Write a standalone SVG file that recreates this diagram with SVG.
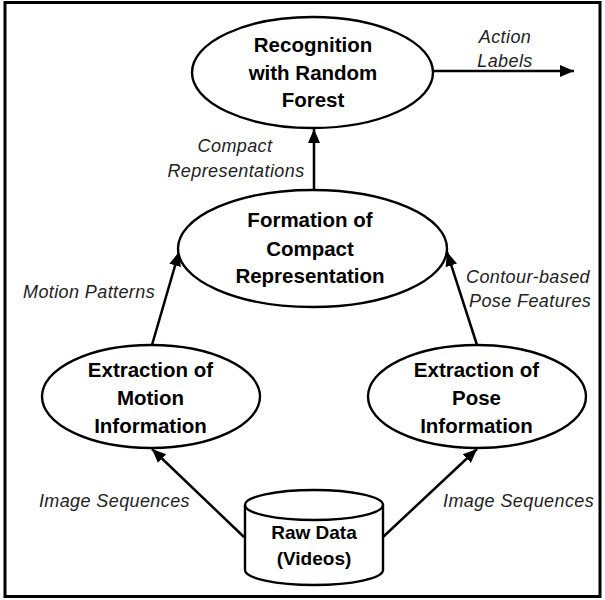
<svg xmlns="http://www.w3.org/2000/svg" width="605" height="600" viewBox="0 0 605 600">
<style>
.n{fill:#fff;stroke:#000;stroke-width:2.4}
.t{font-family:"Liberation Sans",Arial,sans-serif;font-weight:bold;font-size:20.5px;fill:#000;text-anchor:middle}
.l{font-family:"Liberation Sans",Arial,sans-serif;font-style:italic;font-size:18px;letter-spacing:0.4px;fill:#222}
.c{stroke:#000;stroke-width:2.5;fill:none;marker-end:url(#ah)}
</style>
<defs>
<marker id="ah" markerUnits="userSpaceOnUse" markerWidth="16" markerHeight="16" viewBox="0 0 16 16" refX="14" refY="8" orient="auto">
<path d="M0,2 L14,8 L0,14 Z" fill="#000"/>
</marker>
</defs>
<rect x="5" y="2.5" width="595" height="594" fill="#fff" stroke="#000" stroke-width="3"/>
<g id="connectors">
<line class="c" x1="433" y1="71" x2="574" y2="71"/>
<line class="c" x1="314" y1="190" x2="314" y2="129"/>
<line class="c" x1="152" y1="345" x2="179" y2="252"/>
<line class="c" x1="477" y1="345" x2="447" y2="252"/>
<line class="c" x1="244" y1="537" x2="152" y2="449"/>
<line class="c" x1="383" y1="537" x2="477" y2="449"/>
</g>
<g id="labels">
<text class="l" x="505" y="43" text-anchor="middle">Action</text>
<text class="l" x="505" y="67" text-anchor="middle">Labels</text>
<text class="l" x="235" y="152" text-anchor="middle">Compact</text>
<text class="l" x="236" y="177" text-anchor="middle">Representations</text>
<text class="l" x="23" y="298">Motion Patterns</text>
<text class="l" x="466" y="283">Contour-based</text>
<text class="l" x="469" y="307">Pose Features</text>
<text class="l" x="190" y="507" text-anchor="end">Image Sequences</text>
<text class="l" x="443" y="507">Image Sequences</text>
</g>
<g id="recognition">
<ellipse class="n" cx="312.5" cy="72.5" rx="120.5" ry="55.5"/>
<text class="t" x="313" y="52">Recognition</text>
<text class="t" x="313" y="80">with Random</text>
<text class="t" x="313" y="107">Forest</text>
</g>
<g id="formation">
<ellipse class="n" cx="312.5" cy="248.5" rx="134.5" ry="58.5"/>
<text class="t" x="310" y="227">Formation of</text>
<text class="t" x="310" y="256">Compact</text>
<text class="t" x="310" y="283">Representation</text>
</g>
<g id="motion">
<ellipse class="n" cx="151" cy="396.5" rx="109" ry="51.5"/>
<text class="t" x="150.5" y="377">Extraction of</text>
<text class="t" x="150.5" y="405">Motion</text>
<text class="t" x="150.5" y="433">Information</text>
</g>
<g id="pose">
<ellipse class="n" cx="477" cy="396.5" rx="109" ry="51.5"/>
<text class="t" x="476.5" y="377">Extraction of</text>
<text class="t" x="476.5" y="405">Pose</text>
<text class="t" x="476.5" y="433">Information</text>
</g>
<g id="rawdata">
<path class="n" d="M245,505 L245,570 A69,15 0 0 0 383,570 L383,505 A69,15 0 0 0 245,505 Z"/>
<path d="M245,505 A69,15 0 0 0 383,505" fill="none" stroke="#000" stroke-width="2.4"/>
<text class="t" x="314" y="539" style="font-size:19px">Raw Data</text>
<text class="t" x="314" y="565" style="font-size:19px">(Videos)</text>
</g>
</svg>
